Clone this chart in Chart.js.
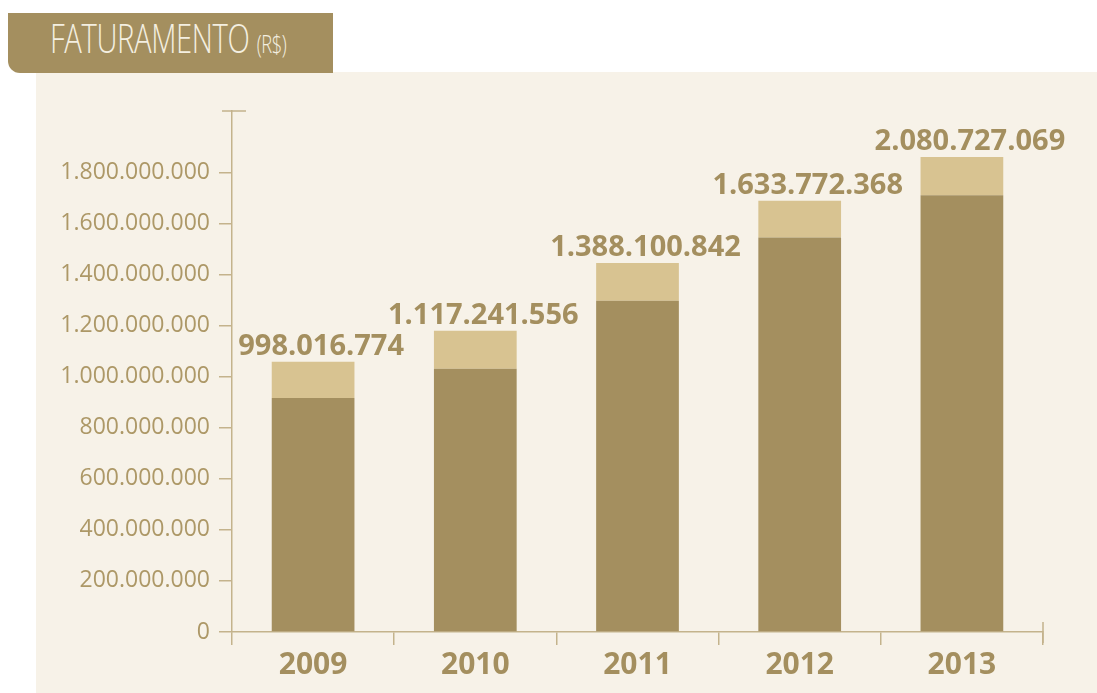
<!DOCTYPE html>
<html lang="pt-br">
<head>
<meta charset="UTF-8">
<title>Faturamento</title>
<script src="https://cdn.jsdelivr.net/npm/chart.js"></script>
<style>
  body { margin: 0; width: 1097px; height: 693px; background: #fff; position: relative; overflow: hidden; }
  .aba {
    position: absolute; left: 8px; top: 13px; width: 325px; height: 60px;
    background: #a48f5f; border-bottom-left-radius: 12px;
  }
  .titulo {
    position: absolute; left: 42px; top: -3px; white-space: nowrap;
    font-family: "Open Sans", sans-serif; font-weight: 300; font-size: 40px; color: #f4efe1;
    transform: scaleX(0.73); transform-origin: left top; letter-spacing: -0.5px;
  }
  .titulo small { font-size: 25px; }
  .painel { position: absolute; left: 36px; top: 72px; right: 0; bottom: 0; background: #f7f2e8; }
  #grafico { position: absolute; left: 0; top: 0; }
</style>
</head>
<body>
  <div class="painel"></div>
  <div class="aba"><div class="titulo">FATURAMENTO <small>(R$)</small></div></div>
  <canvas id="grafico" width="1097" height="693"></canvas>

<script>
  // dados
  var anos = ['2009', '2010', '2011', '2012', '2013']
  var parteEscura = [916000000, 1031000000, 1297000000, 1545000000, 1710000000]
  var parteClara = [142000000, 149000000, 148000000, 144000000, 150000000]
  var faturamento = [998016774, 1117241556, 1388100842, 1633772368, 2080727069]
  var valoresEixo = [0, 200000000, 400000000, 600000000, 800000000, 1000000000,
    1200000000, 1400000000, 1600000000, 1800000000]

  var corEixo = '#c4b38c'
  var corTexto = '#a48f5f'

  function formatar(v) {
    return String(Math.round(v)).replace(/\B(?=(\d{3})+(?!\d))/g, '.')
  }

  // rótulos dos totais e detalhes dos eixos
  const extras = {
    id: 'extras',
    afterDatasetsDraw(chart) {
      const ctx = chart.ctx
      const meta = chart.getDatasetMeta(1)
      ctx.save()
      ctx.font = 'bold 29px "Open Sans", sans-serif'
      ctx.fillStyle = corTexto
      ctx.textAlign = 'center'
      ctx.textBaseline = 'alphabetic'
      meta.data.forEach(function (bar, i) {
        ctx.fillText(formatar(faturamento[i]), bar.x + 8, bar.y - 7)
      })
      ctx.restore()
    },
    afterDraw(chart) {
      const ctx = chart.ctx
      const x = chart.scales.x
      const y = chart.scales.y
      ctx.save()
      ctx.strokeStyle = corEixo
      ctx.lineWidth = 1.5
      ctx.beginPath()
      ctx.moveTo(y.right - 10, y.top)
      ctx.lineTo(y.right + 14, y.top)
      ctx.moveTo(x.right, x.top - 10)
      ctx.lineTo(x.right, x.top + 11)
      ctx.stroke()
      ctx.restore()
    }
  }

  const config = {
    type: 'bar',
    data: {
      labels: anos,
      datasets: [{
        label: 'base',
        data: parteEscura,
        backgroundColor: '#a48f5f',
        barPercentage: 0.51,
        categoryPercentage: 1
      }, {
        label: 'topo',
        data: parteClara,
        backgroundColor: '#d8c391',
        barPercentage: 0.51,
        categoryPercentage: 1
      }]
    },
    options: {
      responsive: false,
      animation: false,
      layout: { padding: { top: 111, right: 54, left: 0, bottom: 0 } },
      plugins: { legend: { display: false }, tooltip: { enabled: false } },
      scales: {
        x: {
          stacked: true,
          afterFit: function (s) { s.height = 61 },
          border: { display: true, color: corEixo, width: 1.5 },
          grid: { offset: true, drawOnChartArea: false, drawTicks: true, tickLength: 13, color: corEixo, lineWidth: 1.5 },
          ticks: { color: corTexto, font: { family: '"Open Sans", sans-serif', size: 30, weight: 'bold' }, padding: 2 }
        },
        y: {
          stacked: true,
          min: 0,
          max: 2040000000,
          afterFit: function (s) { s.width = 232 },
          afterBuildTicks: function (s) { s.ticks = valoresEixo.map(function (v) { return { value: v } }) },
          border: { display: true, color: corEixo, width: 1.5 },
          grid: { drawOnChartArea: false, drawTicks: true, tickLength: 13, color: corEixo, lineWidth: 1.5 },
          ticks: {
            color: '#ad9867',
            padding: 9,
            font: { family: '"Open Sans", sans-serif', size: 23 },
            callback: function (v) { return formatar(v) }
          }
        }
      }
    },
    plugins: [extras]
  }

  new Chart(document.getElementById('grafico'), config)
</script>
</body>
</html>
